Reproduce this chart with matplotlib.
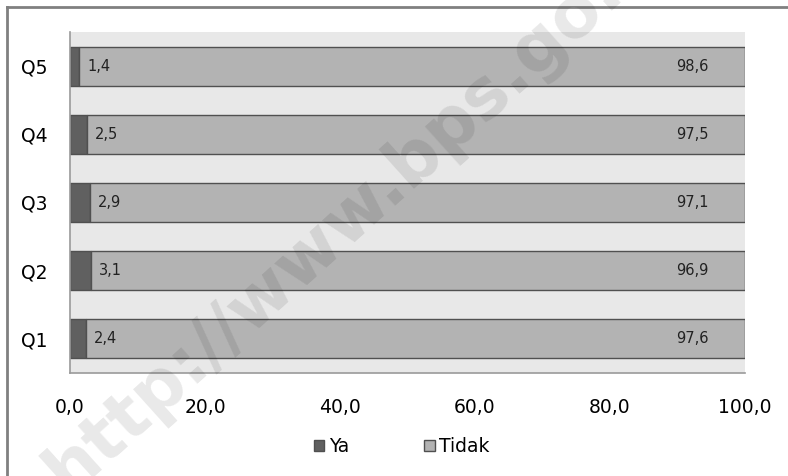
import matplotlib
matplotlib.use("Agg")
import matplotlib.pyplot as plt
from matplotlib.lines import Line2D

categories = ["Q1", "Q2", "Q3", "Q4", "Q5"]
ya = [2.4, 3.1, 2.9, 2.5, 1.4]
tidak = [97.6, 96.9, 97.1, 97.5, 98.6]
x_ticks = [0, 20, 40, 60, 80, 100]


def fmt(v, nd=1):
    return f"{v:.{nd}f}".replace(".", ",")


fig = plt.figure(figsize=(7.88, 4.76), dpi=100)
ax = fig.add_axes([70 / 788, 103 / 476, 675 / 788, 341 / 476])
ax.set_facecolor("#e8e8e8")

y = range(len(categories))
ax.barh(y, ya, height=0.57, color="#606060", edgecolor="#505050", linewidth=1, label="Ya", zorder=2)
ax.barh(y, tidak, left=ya, height=0.57, color="#b3b3b3", edgecolor="#505050", linewidth=1,
        label="Tidak", zorder=2)

for i, (a, b) in enumerate(zip(ya, tidak)):
    ax.text(a + 1.2, i, fmt(a), ha="left", va="center", fontsize=10.5, color="#222222", zorder=3)
    ax.text(94.6, i, fmt(b), ha="right", va="center", fontsize=10.5, color="#222222", zorder=3)

ax.set_xlim(0, 100)
ax.set_ylim(-0.5, len(categories) - 0.5)
ax.set_yticks(list(y))
ax.set_yticklabels(categories, fontsize=13.5)
ax.set_xticks(x_ticks)
ax.set_xticklabels([fmt(v) for v in x_ticks], fontsize=13.5)
ax.tick_params(axis="x", length=0, pad=18)
ax.tick_params(axis="y", length=0, pad=16)
for side in ["top", "right"]:
    ax.spines[side].set_visible(False)
for side in ["left", "bottom"]:
    ax.spines[side].set_color("#9a9a9a")
    ax.spines[side].set_linewidth(1.2)

leg = ax.legend(loc="center", bbox_to_anchor=(0.51, 0.061), bbox_transform=fig.transFigure,
                ncol=2, frameon=False, fontsize=13.5, handlelength=0.55, handleheight=0.55,
                handletextpad=0.25, columnspacing=4.0)

# outer frame (left and top edges visible)
fig.add_artist(Line2D([7 / 788, 7 / 788], [0, 1 - 7 / 476], color="#808080", lw=2))
fig.add_artist(Line2D([7 / 788, 1], [1 - 7 / 476, 1 - 7 / 476], color="#808080", lw=2))

# watermark
fig.text(0.085, -0.04, "http://www.bps.go.id", rotation=42, rotation_mode="anchor",
         ha="left", va="baseline", fontsize=50, fontweight="bold", color="black", alpha=0.09,
         zorder=10)

fig.savefig("out.png", dpi=100)
